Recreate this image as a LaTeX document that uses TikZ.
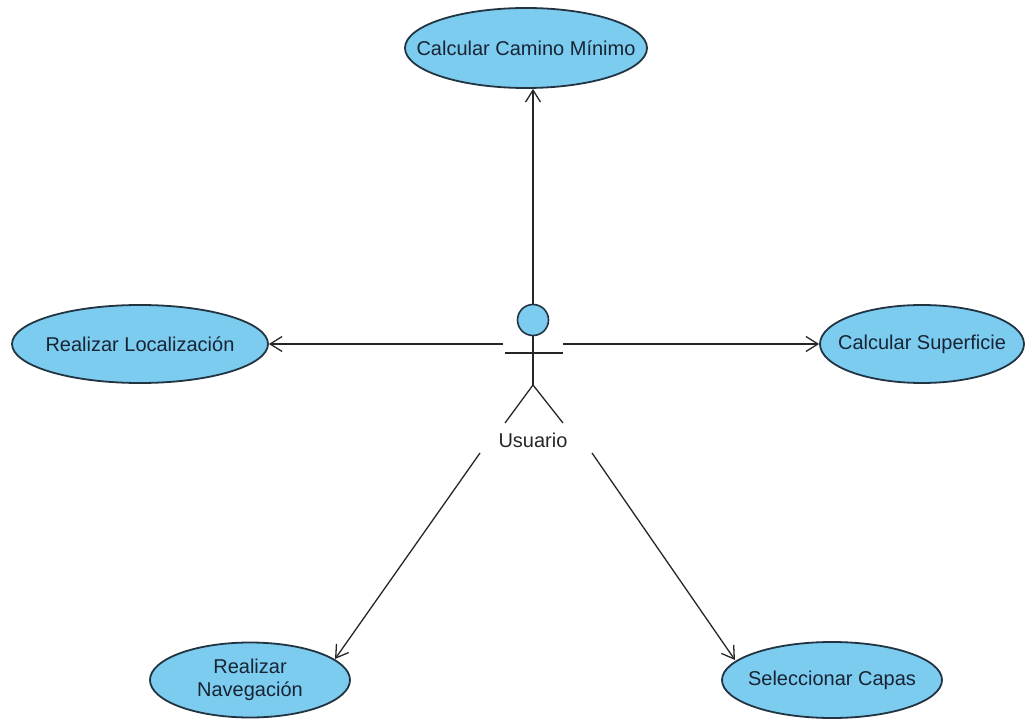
\documentclass[tikz,border=0pt]{standalone}
\usepackage{fontspec}
\setmainfont{Liberation Sans}
\usetikzlibrary{shapes.geometric,arrows.meta}
\definecolor{ucfill}{RGB}{124,204,240}
\definecolor{ucline}{RGB}{34,52,66}
\definecolor{uctext}{RGB}{24,36,52}
\begin{document}
\begin{tikzpicture}[x=1pt,y=-1pt,
  usecase/.style={ellipse,draw=ucline,line width=1.8pt,fill=ucfill,inner sep=0pt},
  uctxt/.style={text=uctext,font=\fontsize{20}{23.5}\selectfont,align=center,inner sep=0pt},
  assoc/.style={draw=black!85,line width=1.3pt,-{Straight Barb[length=12pt,width=15pt,line width=1.3pt]}},
  actorline/.style={draw=black!85,line width=1.3pt}]
\useasboundingbox (0,0) rectangle (1031,719);
% use cases
\node[usecase,minimum width=242pt,minimum height=80pt] (cm) at (526,48) {};
\node[uctxt] (cmt) at (cm.center) {Calcular Camino Mínimo};
\node[usecase,minimum width=256pt,minimum height=78pt] (loc) at (140,344) {};
\node[uctxt] (loct) at (loc.center) {Realizar Localización};
\node[usecase,minimum width=204pt,minimum height=78pt] (sup) at (922,344) {};
\node[uctxt] (supt) at (sup.center) {Calcular Superficie};
\node[usecase,minimum width=200pt,minimum height=75pt] (nav) at (250,680) {};
\node[uctxt] (navt) at (nav.center) {Realizar\\Navegación};
\node[usecase,minimum width=220pt,minimum height=76pt] (cap) at (832,680) {};
\node[uctxt] (capt) at (cap.center) {Seleccionar Capas};
% actor
\node[circle,draw=ucline,line width=1.6pt,fill=ucfill,minimum size=31pt,inner sep=0pt] (head) at (533,320) {};
\coordinate (armL) at (505,353);
\coordinate (armR) at (563,353);
\coordinate (hip) at (533,385);
\coordinate (legL) at (505,423);
\coordinate (legR) at (563,423);
\draw[actorline] (armL) -- (armR);
\draw[actorline] (head.south) -- (hip);
\draw[actorline] (legL) -- (hip) -- (legR);
\node[text=black!85,font=\fontsize{20}{23.5}\selectfont,inner sep=0pt] (usr) at (533,440) {Usuario};
% connector start points
\coordinate (sL) at (503,344);
\coordinate (sR) at (563,344);
\coordinate (sBL) at (480,453);
\coordinate (sBR) at (592,453);
\coordinate (eBL) at (335,659);
\coordinate (eBR) at (735,660);
% associations
\draw[assoc] (head.north) -- (cm.south -| head.north);
\draw[assoc] (sL) -- (loc.east);
\draw[assoc] (sR) -- (sup.west);
\draw[assoc] (sBL) -- (eBL);
\draw[assoc] (sBR) -- (eBR);
\end{tikzpicture}
\end{document}
